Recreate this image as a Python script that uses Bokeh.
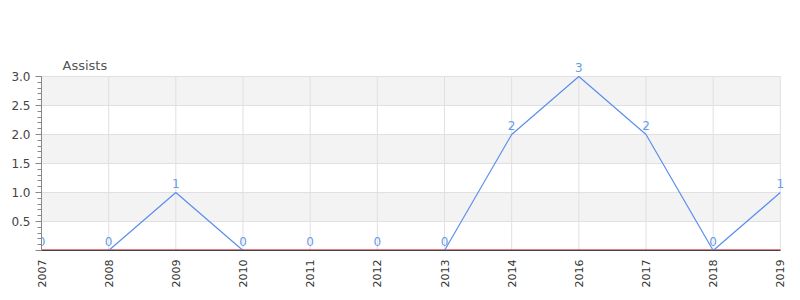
import math
from bokeh.plotting import figure
from bokeh.models import (Range1d, FixedTicker, ColumnDataSource, Label,
                          NumeralTickFormatter)
from bokeh.core.properties import value
from bokeh.embed import file_html
from bokeh.resources import INLINE

# Season data
years = ["2007", "2008", "2009", "2010", "2011", "2012", "2013",
         "2014", "2016", "2017", "2018", "2019"]
assists = [0, 0, 1, 0, 0, 0, 0, 2, 3, 2, 0, 1]
y_ticks = [0, 0.5, 1.0, 1.5, 2.0, 2.5, 3.0]

idx = list(range(len(years)))
x_first, x_last = idx[0], idx[-1]
y_top = y_ticks[-1]
src = ColumnDataSource(dict(x=idx, y=assists, lbl=[str(v) for v in assists]))

# the frame runs a little past the last category and above the top tick so
# that value labels near the edges are not cut off
p = figure(width=800, height=300, output_backend="svg", toolbar_location=None,
           x_range=Range1d(x_first, x_last + 0.3), y_range=Range1d(0, y_top + 0.345),
           min_border_left=41, min_border_right=0, min_border_top=56,
           min_border_bottom=50)
p.outline_line_color = None
p.background_fill_color = "white"
p.xgrid.visible = False
p.ygrid.visible = False

# alternating horizontal bands and grid lines, limited to the plotted span
pairs = [(y_ticks[i], y_ticks[i + 1]) for i in range(len(y_ticks) - 1) if i % 2 == 1]
p.quad(left=x_first, right=x_last, bottom=[a for a, _ in pairs], top=[b for _, b in pairs],
       fill_color="#f3f3f3", line_color=None)
p.segment(x0=x_first, x1=x_last, y0=y_ticks[1:], y1=y_ticks[1:],
          line_color="#e0e0e0", line_width=1)
p.segment(x0=idx, x1=idx, y0=0, y1=y_top, line_color="#e0e0e0", line_width=1)

# axes
p.xaxis.ticker = FixedTicker(ticks=idx)
p.xaxis.bounds = (x_first, x_last)
p.xaxis.major_label_overrides = {i: y for i, y in zip(idx, years)}
p.xaxis.major_label_orientation = math.pi / 2
p.xaxis.major_label_text_font = "DejaVu Sans"
p.xaxis.major_label_text_font_size = "11px"
p.xaxis.major_label_text_color = "#333333"
p.xaxis.major_label_standoff = 9
p.xaxis.axis_line_color = "#444444"
p.xaxis.major_tick_line_color = None
p.xaxis.minor_tick_line_color = None
p.xaxis.major_tick_out = 0
p.xaxis.major_tick_in = 0

minor = [round(i * 0.1, 1) for i in range(31)]
p.yaxis.ticker = FixedTicker(ticks=y_ticks, minor_ticks=minor)
p.yaxis.bounds = (0, y_top)
p.yaxis.formatter = NumeralTickFormatter(format="0.0")
p.yaxis.major_label_overrides = {0: ""}
p.yaxis.major_label_text_font = "DejaVu Sans"
p.yaxis.major_label_text_font_size = "12px"
p.yaxis.major_label_text_color = "#444444"
p.yaxis.axis_line_color = "#888888"
p.yaxis.major_tick_line_color = "#888888"
p.yaxis.minor_tick_line_color = "#888888"
p.yaxis.major_tick_out = 6
p.yaxis.major_tick_in = 0
p.yaxis.minor_tick_out = 4
p.yaxis.minor_tick_in = 0

# zero baseline
p.line(x=[x_first, x_last], y=[0, 0], line_color="#cc0000", line_width=2)

# series
p.line("x", "y", source=src, line_color="#5b8ef0", line_width=1.2)
p.text("x", "y", text="lbl", source=src, text_align="center",
       text_baseline="bottom", y_offset=-5, text_font=value("DejaVu Sans"),
       text_font_size="12px", text_color="#6a9be8")

# chart title
p.add_layout(Label(x=x_first, y=y_top, x_offset=21, y_offset=4, text="Assists",
                   text_baseline="bottom", text_font="DejaVu Sans",
                   text_font_size="13px", text_color="#555555"))

open("out.html", "w").write(file_html(p, INLINE))
